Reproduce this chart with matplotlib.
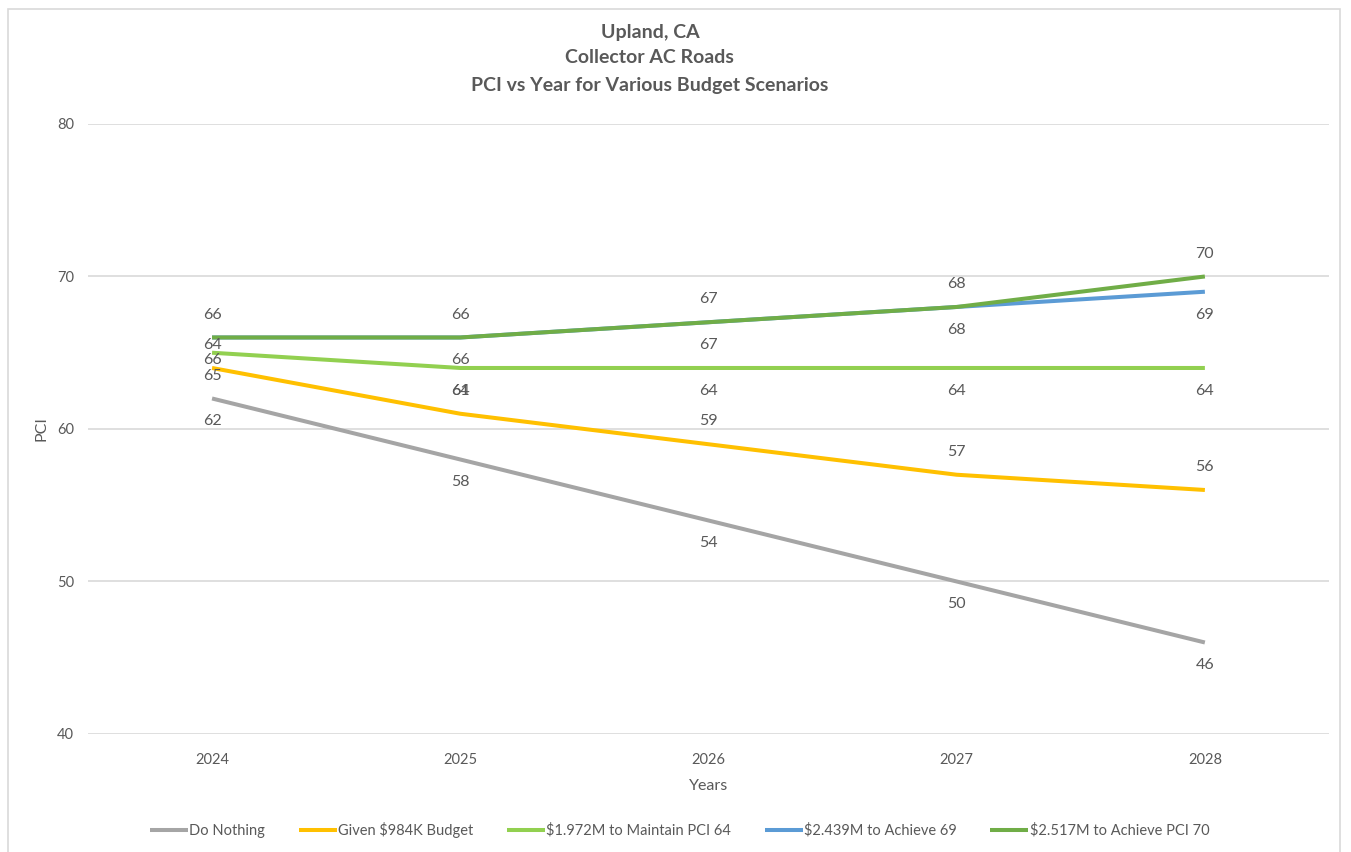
import matplotlib.pyplot as plt
from matplotlib.patches import Rectangle

plt.rcParams['font.family'] = ['Lato', 'DejaVu Sans']

years = ['2024', '2025', '2026', '2027', '2028']
do_nothing = [62, 58, 54, 50, 46]
given_budget = [64, 61, 59, 57, 56]
maintain_64 = [65, 64, 64, 64, 64]
achieve_69 = [66, 66, 67, 68, 69]
achieve_70 = [66, 66, 67, 68, 70]

series_names = ['Do Nothing', 'Given $984K Budget', '$1.972M to Maintain PCI 64',
                '$2.439M to Achieve 69', '$2.517M to Achieve PCI 70']
series_values = [do_nothing, given_budget, maintain_64, achieve_69, achieve_70]
colors = ['#A5A5A5', '#FFC000', '#92D050', '#5B9BD5', '#70AD47']
label_side = [-1, 1, -1, -1, 1]   # -1 below the line, 1 above

text_color = '#595959'

fig = plt.figure(figsize=(13.51, 8.52), dpi=100)
ax = fig.add_axes([0.0651, 0.1385, 0.9186, 0.716])

x = list(range(len(years)))
for name, vals, c, side in zip(series_names, series_values, colors, label_side):
    ax.plot(x, vals, color=c, lw=2.9, label=name, solid_capstyle='butt', zorder=3)
    for xi, v in zip(x, vals):
        ax.annotate(str(v), (xi, v), xytext=(0, 16.5 * side), textcoords='offset points',
                    ha='center', va='center', fontsize=11.5, color=text_color, zorder=4)

ax.set_xlim(-0.5, len(years) - 0.5)
ax.set_ylim(40, 80)
ax.set_yticks([40, 50, 60, 70, 80])
ax.set_xticks(x)
ax.set_xticklabels(years)
ax.grid(axis='y', color='#D9D9D9', lw=1.2)
ax.set_axisbelow(True)
for s in ax.spines.values():
    s.set_visible(False)
ax.tick_params(axis='both', length=0, colors=text_color, labelsize=10.5)
ax.tick_params(axis='x', pad=14)
ax.tick_params(axis='y', pad=10)

ax.set_xlabel('Years', fontsize=11.5, color=text_color, labelpad=8)
ax.set_ylabel('PCI', fontsize=11.5, color=text_color, labelpad=6)

title_x = 0.481
fig.text(title_x, 0.962, 'Upland, CA', ha='center', va='center', fontsize=14,
         fontweight='bold', color=text_color)
fig.text(title_x, 0.933, 'Collector AC Roads', ha='center', va='center', fontsize=14,
         fontweight='bold', color=text_color)
fig.text(title_x, 0.900, 'PCI vs Year for Various Budget Scenarios', ha='center', va='center',
         fontsize=14, fontweight='bold', color=text_color)

leg = fig.legend(loc='center', bbox_to_anchor=(0.503, 0.026), ncol=5, frameon=False,
                 fontsize=10.5, handlelength=2.6, columnspacing=2.3, handletextpad=0.1)
for t in leg.get_texts():
    t.set_color(text_color)

fig.patches.append(Rectangle((0.006, -0.01), 0.986, 1.0, transform=fig.transFigure,
                             fill=False, edgecolor='#D9D9D9', lw=1.2))

fig.savefig('out.png', dpi=100)
